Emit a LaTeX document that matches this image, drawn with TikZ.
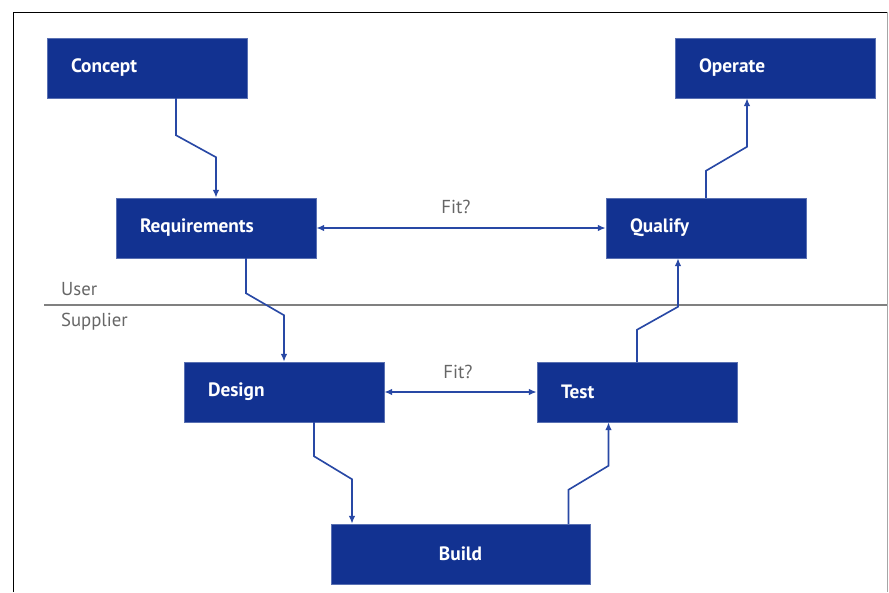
\documentclass[tikz,border=0pt]{standalone}
\usepackage{fontspec}
\setmainfont{PT Sans}
\usepackage{tikz}
\usepackage{xcolor}
\usetikzlibrary{positioning,arrows.meta}

\definecolor{vblue}{RGB}{18,50,145}
\definecolor{vline}{RGB}{40,72,165}

\begin{document}
\begin{tikzpicture}[
    x=0.3mm, y=-0.3mm,
    phase/.style={
        rectangle,
        fill=vblue,
        draw=vblue!70,
        minimum width=60mm,
        minimum height=18mm,
        inner xsep=7.2mm,
        text width=45.6mm,
        align=left,
        text=white,
        font=\fontsize{16.5}{18}\selectfont\bfseries
    },
    flow/.style={
        -{Latex[length=2.4mm,width=2mm]},
        line width=1.4pt,
        draw=vline
    },
    fitarrow/.style={
        {Latex[length=2.4mm,width=2mm]}-{Latex[length=2.4mm,width=2mm]},
        line width=1.4pt,
        draw=vline
    },
    side/.style={
        text=black!60,
        font=\fontsize{16}{18}\selectfont,
        anchor=west
    }
]
    \useasboundingbox (0,0) rectangle (889,592);

    % --- FRAME ---
    \draw [black, line width=0.8pt] (13,592) -- (13,12) -- (887,12);
    \draw [black!35, line width=0.8pt] (887,12) -- (887,592);

    % --- USER / SUPPLIER SPLIT ---
    \draw [black!50, line width=2pt] (44,305) -- (887,305);
    \node [side] (user) at (57,289) {User};
    \node [side] (supplier) at (57,322) {Supplier};

    % --- PHASES ---
    % User side
    \node [phase] (concept) at (147,68) {Concept};
    \node [phase] (operate) at (775,68) {Operate};
    \node [phase] (requirements) at (216,228) {Requirements};
    \node [phase] (qualify) at (706,228) {Qualify};

    % Supplier side
    \node [phase] (design) at (284,392) {Design};
    \node [phase] (test) at (637,392) {Test};
    \node [phase, minimum width=77.7mm, text width=63.3mm, align=center] (build) at (460.5,554) {Build};

    % --- ARROWS ---
    % Down the left leg
    \draw [flow] (concept.south) ++(29,0) -- ++(0,37) -- ++(40,22) coordinate (c1) -- (c1 |- requirements.north);
    \draw [flow] (requirements.south) ++(30,0) -- ++(0,35) -- ++(38,22) coordinate (c2) -- (c2 |- design.north);
    \draw [flow] (design.south) ++(30,0) -- ++(0,34) -- ++(38,23) coordinate (c3) -- (c3 |- build.north);

    % Up the right leg
    \draw [flow] (build.north) ++(108,0) -- ++(0,-34) -- ++(40,-24) coordinate (c4) -- (c4 |- test.south);
    \draw [flow] (test.north) -- ++(0,-32) -- ++(41,-23) coordinate (c5) -- (c5 |- qualify.south);
    \draw [flow] (qualify.north) -- ++(0,-27) -- ++(41,-24) coordinate (c6) -- (c6 |- operate.south);

    % Fit? checks
    \draw [fitarrow] (requirements.east) -- (qualify.west);
    \node [side, anchor=center] (fitup) at (456,207) {Fit?};
    \draw [fitarrow] (design.east) -- (test.west);
    \node [side, anchor=center] (fitdown) at (458,372) {Fit?};

\end{tikzpicture}
\end{document}
